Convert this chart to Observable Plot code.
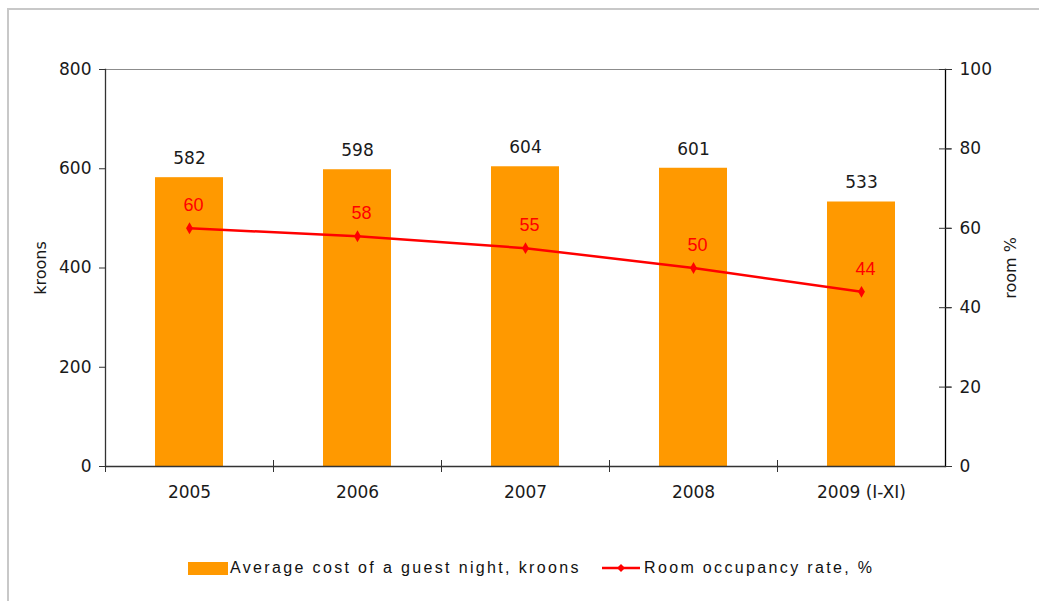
<!DOCTYPE html>
<html>
<head>
<meta charset="utf-8">
<script src="https://cdn.jsdelivr.net/npm/d3@7"></script>
<script src="https://cdn.jsdelivr.net/npm/@observablehq/plot@0.6"></script>
<style>
  html, body { margin: 0; padding: 0; background: #fff; width: 1039px; height: 601px; overflow: hidden; }
  #frame { position: absolute; left: 7px; top: 8px; width: 1100px; height: 700px;
           border-top: 2px solid #c8c8c8; border-left: 2px solid #c8c8c8; }
  #chart { position: absolute; left: 0; top: 0; }
  #legend { position: absolute; left: 0; top: 556px; width: 1039px; height: 24px;
            font-family: "Liberation Sans", Arial, sans-serif; font-size: 16px; letter-spacing: 2.35px; color: #111; }
  .item { position: absolute; top: 0; height: 24px; display: flex; align-items: center; white-space: nowrap; }
  .sw { display: inline-block; }
</style>
</head>
<body>
<div id="frame"></div>
<div id="chart"></div>
<div id="legend"></div>
<script>
const years = ["2005", "2006", "2007", "2008", "2009 (I-XI)"];
const cost = [582, 598, 604, 601, 533];
const occupancy = [60, 58, 55, 50, 44];
const leftTicks = [0, 200, 400, 600, 800];
const rightTicks = [0, 20, 40, 60, 80, 100];
const costLabel = "Average cost of a guest night, kroons";
const occLabel = "Room occupancy rate, %";

const leftMax = 800, rightMax = 100;
const k = leftMax / rightMax;
const data = years.map((year, i) => ({year, cost: cost[i], occ: occupancy[i]}));

const barColor = "#ff9900";
const lineColor = "#ff0000";

const plot = Plot.plot({
  width: 1039,
  height: 520,
  marginLeft: 105,
  marginRight: 94,
  marginTop: 69,
  marginBottom: 54,
  style: {fontFamily: "DejaVu Sans", fontSize: "17px", color: "#1a1a1a", background: "transparent"},
  x: {type: "band", domain: years, padding: 0},
  y: {domain: [0, leftMax]},
  marks: [
    Plot.barY(data, {x: "year", y: "cost", fill: barColor, insetLeft: 50, insetRight: 50}),
    Plot.ruleY([leftMax], {stroke: "#8c8c8c", strokeWidth: 1}),
    Plot.ruleY([0], {stroke: "#333", strokeWidth: 1.3}),
    Plot.frame({anchor: "left", stroke: "#333", strokeWidth: 1.3}),
    Plot.frame({anchor: "right", stroke: "#000", strokeWidth: 1.3}),
    Plot.ruleX(data, {x: "year", dx: -84, insetTop: 391, insetBottom: -6, stroke: "#333"}),
    Plot.axisY(leftTicks, {anchor: "left", tickSize: 6, tickPadding: 8, label: null, stroke: "#333"}),
    Plot.axisY(rightTicks.map(t => t * k), {anchor: "right", tickSize: 6, tickPadding: 8, label: null,
      tickFormat: d => d / k, stroke: "#333"}),
    Plot.ruleY(rightTicks.map(t => t * k), {insetLeft: 834, insetRight: -6, stroke: "#333"}),
    Plot.axisX(years, {anchor: "bottom", tickSize: 0, tickPadding: 19, label: null, style: {letterSpacing: "0.4px"}}),
    Plot.text(["kroons"], {frameAnchor: "left", textAnchor: "middle", dx: -65, rotate: -90, fontSize: 16, fill: "#1a1a1a"}),
    Plot.text(["room %"], {frameAnchor: "right", textAnchor: "middle", dx: 65, rotate: -90, fontSize: 16, fill: "#1a1a1a"}),
    Plot.text(data, {x: "year", y: "cost", text: d => String(d.cost), dy: -19, fill: "#1a1a1a"}),
    Plot.line(data, {x: "year", y: d => d.occ * k, stroke: lineColor, strokeWidth: 2.5}),
    Plot.dot(data, {x: "year", y: d => d.occ * k, symbol: "diamond", r: 3.6, fill: lineColor}),
    Plot.text(data, {x: "year", y: d => d.occ * k, text: d => String(d.occ), dx: 4, dy: -23,
      fill: lineColor, fontFamily: "Liberation Sans", fontSize: 18})
  ]
});
document.getElementById("chart").appendChild(plot);

const legend = document.getElementById("legend");
legend.innerHTML = `
  <div class="item" style="left:188px">
    <span class="sw" style="width:40px;height:13px;background:${barColor};margin-right:2px"></span>
    <span>${costLabel}</span>
  </div>
  <div class="item" style="left:602px">
    <svg class="sw" width="40" height="12" style="margin-right:2px">
      <line x1="0" y1="6" x2="38" y2="6" stroke="${lineColor}" stroke-width="2.5"/>
      <path d="M19,2 L23,6 L19,10 L15,6 Z" fill="${lineColor}"/>
    </svg>
    <span>${occLabel}</span>
  </div>`;
</script>
</body>
</html>
